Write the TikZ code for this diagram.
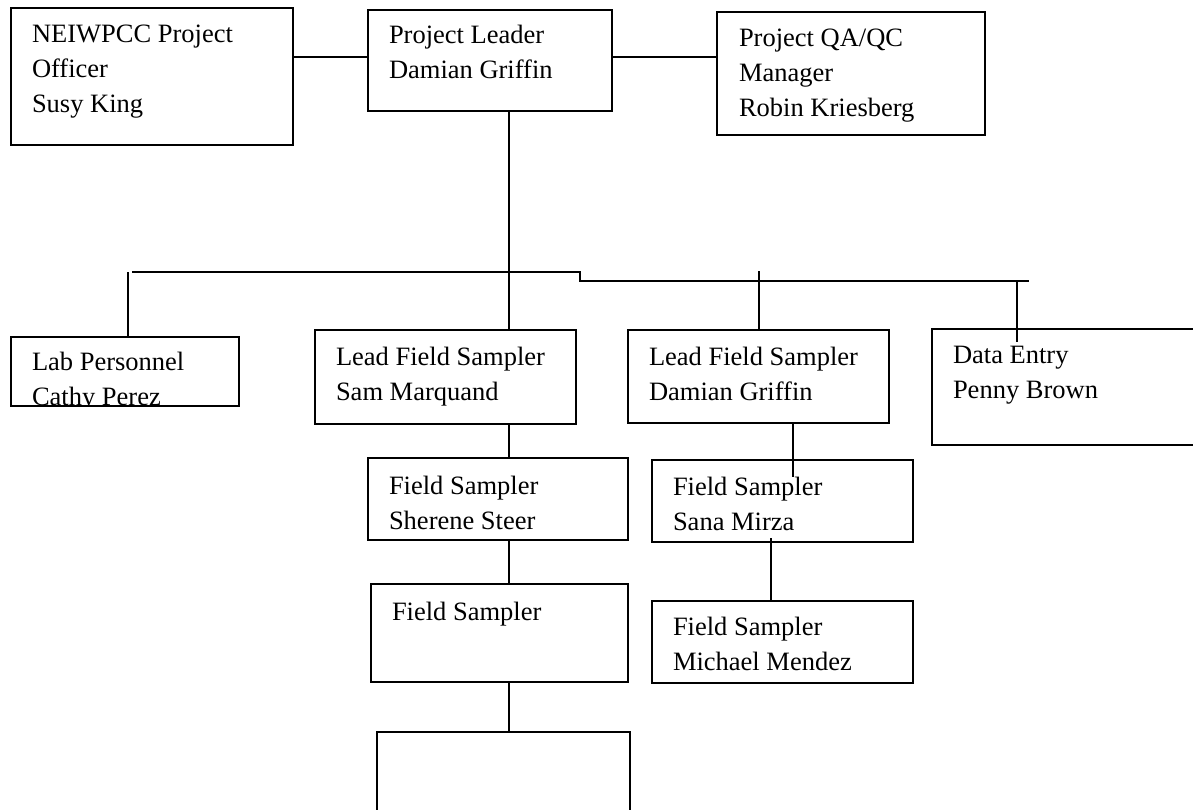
\documentclass[tikz,border=0pt]{standalone}
\usepackage{fontspec}
\setmainfont{Liberation Serif}
\begin{document}
\begin{tikzpicture}[x=1pt,y=1pt,
  box/.style={draw, line width=1.6pt, rectangle, inner sep=0pt, outer sep=0pt, anchor=north west},
  lbl/.style={anchor=base west, inner sep=0pt, outer sep=0pt, font=\fontsize{26.5}{35}\selectfont},
  link/.style={line width=1.6pt}]
\useasboundingbox (0,0) rectangle (1193,-810);
\clip (0,0) rectangle (1193,-810);
% boxes
\node[box, minimum width=282, minimum height=137] (neiw) at (11,-8) {};
\node[box, minimum width=244, minimum height=101] (pl) at (368,-10) {};
\node[box, minimum width=268, minimum height=123] (qa) at (717,-12) {};
\node[box, minimum width=228, minimum height=69] (lab) at (11,-337) {};
\node[box, minimum width=261, minimum height=94] (sam) at (315,-330) {};
\node[box, minimum width=261, minimum height=93] (dg) at (628,-330) {};
\node[box, minimum width=280, minimum height=116] (de) at (932,-329) {};
\node[box, minimum width=260, minimum height=82] (ss) at (368,-458) {};
\node[box, minimum width=257, minimum height=98] (fs) at (371,-584) {};
\node[box, minimum width=253, minimum height=100] (emp) at (377,-732) {};
\node[box, minimum width=261, minimum height=82] (sm) at (652,-460) {};
\node[box, minimum width=261, minimum height=82] (mm) at (652,-601) {};
% texts
\node[lbl] (neiwT) at (32,-43) {\begin{tabular}[t]{@{}l@{}}NEIWPCC Project\\Officer\\Susy King\end{tabular}};
\node[lbl] (plT) at (389,-44) {\begin{tabular}[t]{@{}l@{}}Project Leader\\Damian Griffin\end{tabular}};
\node[lbl] (qaT) at (739,-47) {\begin{tabular}[t]{@{}l@{}}Project QA/QC\\Manager\\Robin Kriesberg\end{tabular}};
\begin{scope}
\clip (11,-337) rectangle (239,-404);
\node[lbl] (labT) at (32,-370) {\begin{tabular}[t]{@{}l@{}}Lab Personnel\\Cathy Perez\end{tabular}};
\end{scope}
\node[lbl] (samT) at (336,-365) {\begin{tabular}[t]{@{}l@{}}Lead Field Sampler\\Sam Marquand\end{tabular}};
\node[lbl] (dgT) at (649,-365) {\begin{tabular}[t]{@{}l@{}}Lead Field Sampler\\Damian Griffin\end{tabular}};
\node[lbl] (deT) at (953,-363) {\begin{tabular}[t]{@{}l@{}}Data Entry\\Penny Brown\end{tabular}};
\node[lbl] (ssT) at (389,-494) {\begin{tabular}[t]{@{}l@{}}Field Sampler\\Sherene Steer\end{tabular}};
\node[lbl] (fsT) at (392,-620) {Field Sampler};
\node[lbl] (smT) at (673,-495) {\begin{tabular}[t]{@{}l@{}}Field Sampler\\Sana Mirza\end{tabular}};
\node[lbl] (mmT) at (673,-635) {\begin{tabular}[t]{@{}l@{}}Field Sampler\\Michael Mendez\end{tabular}};
% coordinates
\coordinate (topY) at (0,-57);
\coordinate (busL) at (132,-272);
\coordinate (busStepA) at (580,-272);
\coordinate (busStepB) at (580,-281);
\coordinate (busR) at (1029,-281);
\coordinate (xMain) at (509,-272);
\coordinate (xLab) at (128,-272);
\coordinate (xDG) at (759,-271);
\coordinate (xDE) at (1017,-281);
\coordinate (deEnd) at (1017,-342);
\coordinate (xDG2) at (793,0);
\coordinate (smEnd) at (793,-477);
\coordinate (xSM) at (771,-538);
% connectors
\draw[link] (neiw.east |- topY) -- (pl.west |- topY);
\draw[link] (pl.east |- topY) -- (qa.west |- topY);
\draw[link] (xMain |- pl.south) -- (xMain |- sam.north);
\draw[link] (busL) -- (busStepA) -- (busStepB) -- (busR);
\draw[link] (xLab) -- (xLab |- lab.north);
\draw[link] (xDG) -- (xDG |- dg.north);
\draw[link] (xDE) -- (deEnd);
\draw[link] (xMain |- sam.south) -- (xMain |- ss.north);
\draw[link] (xMain |- ss.south) -- (xMain |- fs.north);
\draw[link] (xMain |- fs.south) -- (xMain |- emp.north);
\draw[link] (xDG2 |- dg.south) -- (smEnd);
\draw[link] (xSM) -- (xSM |- mm.north);
\end{tikzpicture}
\end{document}
